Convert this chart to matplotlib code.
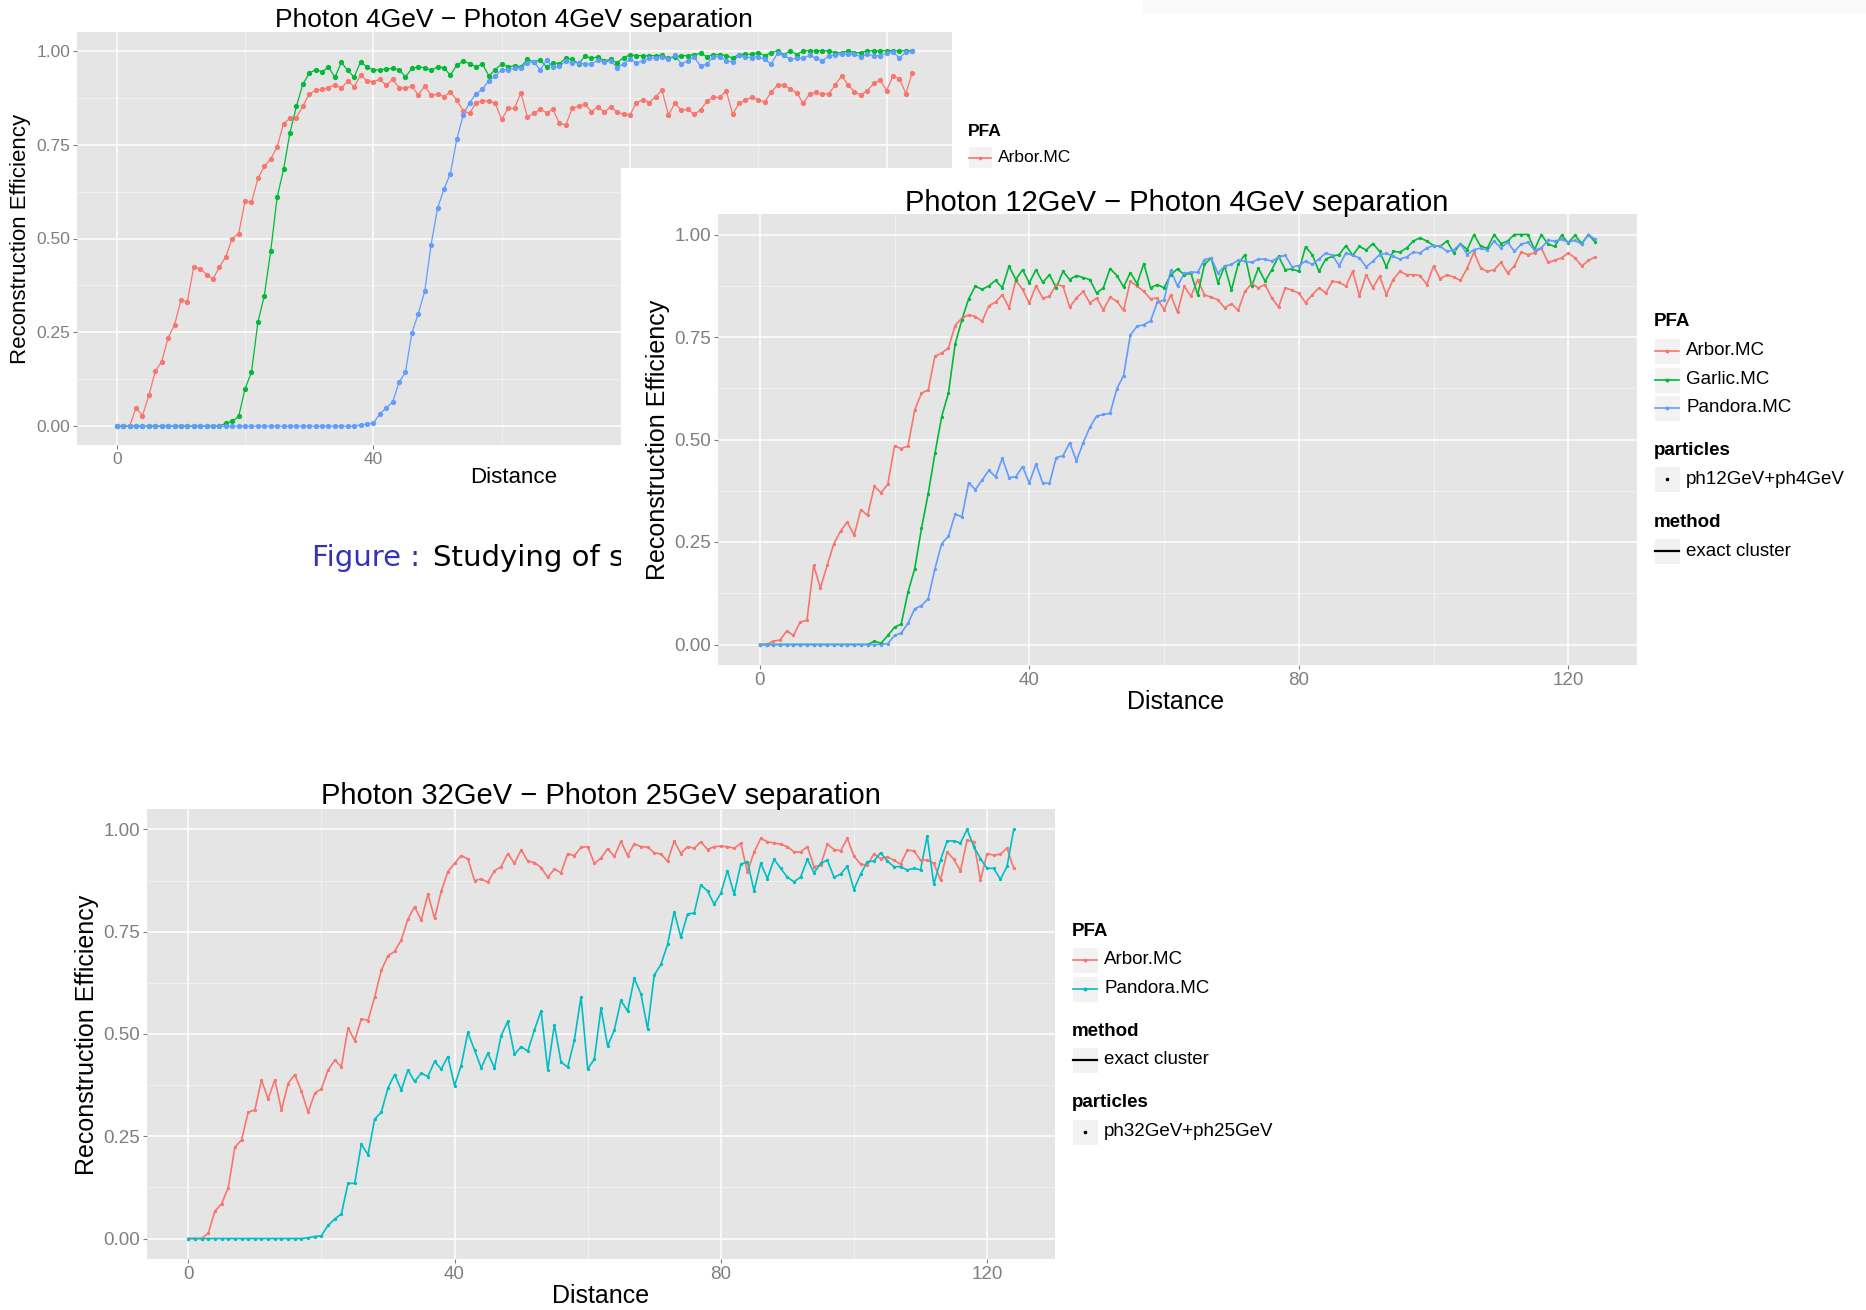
import numpy as np
import matplotlib
matplotlib.use("Agg")
import matplotlib.pyplot as plt
from matplotlib.patches import Rectangle
from matplotlib.lines import Line2D

plt.rcParams['font.family'] = ['Liberation Sans', 'DejaVu Sans']

W, H = 1866, 1310

#Distance steps shared by all three scans:
distance = np.arange(0, 125)

#Photon 4GeV - Photon 4GeV:
arbor_4_4 = [
    0, 0, 0, .049, .028, .082, .146, .172, .235, .270,
    .335, .332, .424, .420, .404, .392, .424, .452, .500, .513,
    .600, .596, .660, .692, .712, .744, .806, .820, .822, .853,
    .884, .895, .897, .902, .910, .900, .920, .904, .935, .920,
    .917, .924, .908, .924, .902, .900, .906, .882, .906, .882,
    .884, .878, .891, .869, .840, .833, .862, .866, .866, .860,
    .817, .847, .847, .888, .824, .833, .844, .835, .844, .807,
    .802, .847, .853, .857, .838, .851, .836, .851, .836, .831,
    .829, .862, .869, .862, .878, .895, .829, .860, .842, .844,
    .831, .842, .866, .876, .876, .894, .831, .860, .869, .876,
    .869, .864, .889, .909, .909, .898, .888, .860, .885, .889,
    .885, .885, .910, .933, .909, .891, .882, .894, .913, .922,
    .894, .933, .926, .886, .941]
garlic_4_4 = [
    0, 0, 0, 0, 0, 0, 0, 0, 0, 0,
    0, 0, 0, 0, 0, 0, 0, .008, .013, .026,
    .100, .144, .277, .348, .467, .610, .684, .782, .852, .911,
    .940, .950, .944, .957, .929, .969, .948, .930, .970, .957,
    .948, .950, .951, .953, .950, .930, .953, .957, .955, .948,
    .957, .955, .935, .962, .972, .966, .957, .965, .933, .950,
    .965, .957, .960, .957, .977, .971, .975, .957, .968, .966,
    .980, .977, .966, .986, .980, .984, .973, .977, .968, .982,
    .989, .987, .987, .987, .987, .988, .980, .984, .987, .987,
    .990, .993, .984, .990, .990, .987, .981, .990, .991, .991,
    .995, .987, .995, 1.0, .990, 1.0, .990, 1.0, 1.0, 1.0,
    1.0, 1.0, .995, .995, 1.0, .995, .995, 1.0, 1.0, 1.0,
    1.0, 1.0, 1.0, 1.0, 1.0]
pandora_4_4 = [
    0, 0, 0, 0, 0, 0, 0, 0, 0, 0,
    0, 0, 0, 0, 0, 0, 0, 0, 0, 0,
    0, 0, 0, 0, 0, 0, 0, 0, 0, 0,
    0, 0, 0, 0, 0, 0, 0, 0, .004, .006,
    .008, .033, .049, .064, .117, .144, .248, .300, .359, .484,
    .580, .631, .673, .764, .828, .862, .885, .898, .920, .933,
    .949, .950, .953, .955, .968, .971, .949, .975, .956, .959,
    .973, .968, .968, .965, .965, .975, .971, .973, .955, .965,
    .977, .968, .973, .980, .980, .984, .977, .988, .965, .973,
    .984, .959, .965, .984, .984, .973, .971, .988, .984, .982,
    .984, .977, .965, .993, .988, .977, .980, .980, .988, .980,
    .973, .987, .988, .991, .991, .991, .984, .991, .987, .987,
    .993, .997, .980, .997, 1.0]

#Photon 12GeV - Photon 4GeV:
arbor_12_4 = [
    0, 0, .008, .011, .033, .022, .055, .059, .193, .138,
    .193, .246, .277, .299, .266, .329, .315, .386, .370, .391,
    .484, .478, .484, .572, .613, .621, .703, .711, .723, .778,
    .796, .804, .800, .788, .826, .835, .853, .821, .888, .866,
    .833, .875, .845, .849, .878, .874, .823, .845, .861, .833,
    .845, .816, .847, .837, .815, .886, .874, .861, .843, .845,
    .816, .853, .810, .874, .849, .890, .853, .847, .841, .821,
    .831, .815, .861, .880, .870, .878, .845, .823, .870, .864,
    .857, .834, .853, .870, .857, .886, .883, .874, .910, .851,
    .902, .870, .898, .853, .890, .910, .902, .902, .900, .878,
    .923, .892, .902, .896, .888, .918, .957, .918, .910, .914,
    .932, .906, .923, .957, .951, .955, .967, .932, .937, .943,
    .955, .943, .923, .937, .945]
garlic_12_4 = [
    0, 0, 0, 0, 0, 0, 0, 0, 0, 0,
    0, 0, 0, 0, 0, 0, 0, .008, .003, .022,
    .042, .050, .128, .185, .283, .368, .466, .556, .613, .733,
    .792, .843, .874, .866, .875, .888, .870, .923, .890, .914,
    .882, .914, .883, .902, .870, .910, .890, .900, .895, .890,
    .857, .870, .917, .900, .872, .907, .880, .929, .870, .878,
    .870, .902, .916, .902, .905, .853, .927, .943, .882, .923,
    .864, .927, .951, .874, .918, .886, .914, .947, .914, .916,
    .910, .970, .951, .910, .940, .947, .951, .973, .949, .971,
    .962, .978, .959, .921, .959, .957, .967, .984, .992, .984,
    .973, .971, .984, .955, .978, .963, 1.0, .971, .967, 1.0,
    .978, .984, 1.0, 1.0, 1.0, .963, 1.0, .976, .971, .998,
    .980, .998, .978, 1.0, .981]
pandora_12_4 = [
    0, 0, 0, 0, 0, 0, 0, 0, 0, 0,
    0, 0, 0, 0, 0, 0, 0, 0, 0, .002,
    .022, .028, .052, .087, .095, .112, .185, .246, .264, .318,
    .311, .394, .378, .401, .425, .409, .454, .407, .409, .434,
    .394, .440, .394, .393, .456, .460, .492, .448, .492, .530,
    .557, .561, .564, .624, .656, .755, .776, .780, .789, .835,
    .840, .913, .874, .905, .908, .908, .939, .943, .905, .923,
    .927, .937, .935, .932, .940, .940, .935, .945, .949, .921,
    .924, .935, .927, .940, .955, .949, .924, .955, .949, .943,
    .921, .935, .951, .954, .947, .940, .945, .957, .955, .967,
    .973, .971, .959, .962, .978, .951, .963, .967, .962, .984,
    .967, .981, .959, .976, .981, .962, .967, .986, .984, .988,
    .981, .986, .976, 1.0, .988]

#Photon 32GeV - Photon 25GeV:
arbor_32_25 = [
    0, 0, 0, .013, .067, .085, .124, .223, .241, .309,
    .314, .388, .341, .388, .314, .379, .401, .360, .309, .355,
    .366, .412, .436, .420, .515, .484, .537, .533, .590, .656,
    .691, .702, .730, .781, .811, .778, .842, .783, .849, .897,
    .917, .936, .928, .875, .879, .871, .899, .909, .941, .917,
    .950, .923, .919, .907, .883, .903, .894, .941, .936, .956,
    .958, .917, .930, .953, .934, .971, .936, .965, .958, .957,
    .943, .940, .922, .972, .941, .958, .954, .970, .951, .958,
    .959, .958, .954, .966, .896, .945, .978, .970, .967, .964,
    .958, .945, .945, .958, .909, .913, .964, .951, .948, .978,
    .935, .915, .913, .940, .929, .933, .925, .915, .949, .948,
    .925, .925, .917, .876, .945, .927, .899, .974, .970, .876,
    .941, .937, .940, .954, .905]
pandora_32_25 = [
    0, 0, 0, 0, 0, 0, 0, 0, 0, 0,
    0, 0, 0, 0, 0, 0, 0, 0, .002, .005,
    .007, .032, .048, .060, .135, .135, .231, .205, .292, .309,
    .368, .401, .363, .412, .384, .404, .396, .433, .414, .445,
    .374, .423, .504, .461, .417, .453, .417, .496, .531, .450,
    .469, .458, .510, .557, .412, .523, .431, .419, .485, .591,
    .414, .439, .563, .470, .510, .582, .556, .636, .598, .513,
    .644, .670, .719, .799, .736, .793, .796, .864, .850, .817,
    .844, .899, .842, .915, .921, .850, .917, .880, .927, .905,
    .883, .872, .884, .927, .894, .917, .925, .883, .891, .910,
    .853, .891, .921, .923, .943, .923, .909, .909, .901, .905,
    .901, .984, .866, .925, .972, .972, .967, 1.0, .958, .929,
    .905, .905, .878, .910, 1.0]

#Axis ticks:
x_ticks = [0, 40, 80, 120]
x_labels = ["0", "40", "80", "120"]
x_minor = [20, 60, 100]
y_ticks = [0, 0.25, 0.5, 0.75, 1.0]
y_labels = ["0.00", "0.25", "0.50", "0.75", "1.00"]
y_minor = [0.125, 0.375, 0.625, 0.875]

RED, GREEN, BLUE, CYAN = "#F8766D", "#00BA38", "#619CFF", "#00BFC4"


def px_rect(l, t, r, b):
    return [l / W, 1 - b / H, (r - l) / W, (b - t) / H]


def ftext(x, y, s, **kw):
    return fig.text(x / W, 1 - y / H, s, **kw)


def make_panel(rect, zorder, tick_fs):
    ax = fig.add_axes(px_rect(*rect), zorder=zorder)
    ax.set_facecolor("#E5E5E5")
    ax.set_xlim(-6.2, 130.2)
    ax.set_ylim(-0.05, 1.05)
    ax.set_xticks(x_ticks)
    ax.set_xticklabels(x_labels)
    ax.set_yticks(y_ticks)
    ax.set_yticklabels(y_labels)
    ax.set_xticks(x_minor, minor=True)
    ax.set_yticks(y_minor, minor=True)
    ax.grid(which="major", color="white", linewidth=1.1)
    ax.grid(which="minor", color="#F4F4F4", linewidth=0.55)
    ax.set_axisbelow(True)
    ax.tick_params(which="major", length=3, width=0.8, color="#7F7F7F",
                   labelcolor="#7F7F7F", labelsize=tick_fs, pad=2)
    ax.tick_params(which="minor", length=0)
    for s in ax.spines.values():
        s.set_visible(False)
    return ax


def draw_series(ax, series, lw, ms):
    #lines first, then the points on top (like ggplot geom_line + geom_point)
    for vals, col in series:
        ax.plot(distance, vals, color=col, linewidth=lw, zorder=2)
    for vals, col in series:
        ax.plot(distance, vals, "o", color=col, markersize=ms,
                markeredgewidth=0, zorder=3)


def legend(x, y, sections, fs, s=1.0, zorder=4):
    kw = 26 * s
    for title, kind, entries in sections:
        ftext(x, y, title, fontsize=fs, fontweight="bold", ha="left",
              va="center", zorder=zorder)
        y += 29 * s
        for col, label in entries:
            fig.add_artist(Rectangle((x / W, 1 - (y + kw / 2) / H), kw / W, kw / H,
                                     transform=fig.transFigure, facecolor="#F2F2F2",
                                     edgecolor="white", linewidth=0.8, zorder=zorder))
            yc = 1 - y / H
            if kind == "pfa":
                fig.add_artist(Line2D([(x + 1) / W, (x + kw - 1) / W], [yc, yc],
                                      transform=fig.transFigure, color=col,
                                      linewidth=1.2, zorder=zorder + 0.1))
                fig.add_artist(Line2D([(x + kw / 2) / W], [yc], transform=fig.transFigure,
                                      marker="o", markersize=2.8 * s, markeredgewidth=0,
                                      color=col, zorder=zorder + 0.1))
            elif kind == "dot":
                fig.add_artist(Line2D([(x + kw / 2) / W], [yc], transform=fig.transFigure,
                                      marker="o", markersize=2.6, markeredgewidth=0,
                                      color="black", zorder=zorder + 0.1))
            else:
                fig.add_artist(Line2D([(x + 1) / W, (x + kw - 1) / W], [yc, yc],
                                      transform=fig.transFigure, color="black",
                                      linewidth=1.6, zorder=zorder + 0.1))
            ftext(x + kw + 6 * s, y, label, fontsize=fs, ha="left", va="center",
                  zorder=zorder)
            y += 28.5 * s
        y += 14 * s


fig = plt.figure(figsize=(W / 100, H / 100), dpi=100)

#Faint strip at the top right
fig.add_artist(Rectangle((1143 / W, 1 - 13 / H), (W - 1143) / W, 13 / H,
                         transform=fig.transFigure, facecolor="#F9F9F9",
                         edgecolor="none", zorder=0.5))

#--- Photon 4GeV - Photon 4GeV ---
ax1 = make_panel((77, 32, 952, 445), 1, 12.5)
draw_series(ax1, [(arbor_4_4, RED), (garlic_4_4, GREEN), (pandora_4_4, BLUE)], 0.9, 3.8)
ftext(514, 27, "Photon 4GeV \u2212 Photon 4GeV separation", fontsize=19,
      ha="center", va="baseline")
ftext(21, 239, "Reconstruction Efficiency", fontsize=16, rotation=90,
      ha="center", va="center")
ftext(514, 477, "Distance", fontsize=16, ha="center", va="center")
legend(968, 131, [("PFA", "pfa", [(RED, "Arbor.MC")])], 12.5, s=0.93, zorder=1.2)

#caption of the slide, partly hidden by the second plot
ftext(312, 566, "Figure :", fontsize=21, color="#3333B3", ha="left",
      va="baseline", family="DejaVu Sans", zorder=1.5)
ftext(433, 566, "Studying of se", fontsize=21, color="black",
      ha="left", va="baseline", family="DejaVu Sans", zorder=1.5)

#white background of the second plot
fig.add_artist(Rectangle((621 / W, 1 - 760 / H), (W - 621) / W, (760 - 168) / H,
                         transform=fig.transFigure, facecolor="white",
                         edgecolor="none", zorder=2))

#--- Photon 12GeV - Photon 4GeV ---
ax2 = make_panel((718, 214, 1637, 665), 3, 13.5)
draw_series(ax2, [(arbor_12_4, RED), (garlic_12_4, GREEN), (pandora_12_4, BLUE)], 1.2, 2.4)
ftext(1177, 211, "Photon 12GeV \u2212 Photon 4GeV separation", fontsize=21,
      ha="center", va="baseline", zorder=4)
ftext(658, 440, "Reconstruction Efficiency", fontsize=18, rotation=90,
      ha="center", va="center", zorder=4)
ftext(1176, 702, "Distance", fontsize=18, ha="center", va="center", zorder=4)
legend(1654, 322, [("PFA", "pfa", [(RED, "Arbor.MC"), (GREEN, "Garlic.MC"),
                                  (BLUE, "Pandora.MC")]),
                   ("particles", "dot", [(None, "ph12GeV+ph4GeV")]),
                   ("method", "rule", [(None, "exact cluster")])], 13.5)

#--- Photon 32GeV - Photon 25GeV ---
ax3 = make_panel((147, 809, 1055, 1259), 1, 13.5)
draw_series(ax3, [(arbor_32_25, RED), (pandora_32_25, CYAN)], 1.2, 2.4)
ftext(601, 804, "Photon 32GeV \u2212 Photon 25GeV separation", fontsize=21,
      ha="center", va="baseline")
ftext(87, 1035, "Reconstruction Efficiency", fontsize=18, rotation=90,
      ha="center", va="center")
ftext(601, 1296, "Distance", fontsize=18, ha="center", va="center")
legend(1072, 931, [("PFA", "pfa", [(RED, "Arbor.MC"), (CYAN, "Pandora.MC")]),
                   ("method", "rule", [(None, "exact cluster")]),
                   ("particles", "dot", [(None, "ph32GeV+ph25GeV")])], 13.5)

plt.savefig("out.png", dpi=100)
